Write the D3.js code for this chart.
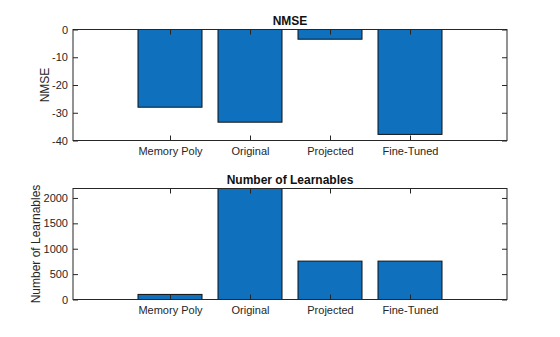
<!DOCTYPE html>
<html>
<head>
<meta charset="utf-8">
<script src="https://cdn.jsdelivr.net/npm/d3@7"></script>
<style>
  html, body { margin: 0; padding: 0; background: #fff; }
  svg { display: block; font-family: "Liberation Sans", Arial, Helvetica, sans-serif; }
</style>
</head>
<body>
<svg id="chart" width="560" height="337"></svg>
<script>
// Model comparison: error and parameter count
const categories = ["Memory Poly", "Original", "Projected", "Fine-Tuned"];
const nmseValues = [-28.0, -33.4, -3.5, -37.8];
const learnableValues = [100, 2186, 756, 756];
const nmseTicks = [0, -10, -20, -30, -40];
const learnableTicks = [0, 500, 1000, 1500, 2000];

const svg = d3.select("#chart");
const barColor = "#0f71be";
const axisColor = "#262626";
const plotLeft = 73, plotRight = 507;
const fmt = d => String(d); // plain hyphen minus, no thousands separator

// Shared category scale (bar positions 1..4, padding on either side)
const x = d3.scaleLinear()
  .domain([1 - 1.2125, 4 + 1.2125])
  .range([plotLeft, plotRight]);
const barW = (x(1.8) - x(1));

function panel(cfg) {
  const { top, bottom, yDomain, values, ticks, title, ylabel, ylabelX } = cfg;
  const y = d3.scaleLinear().domain(yDomain).range([bottom, top]);
  const g = svg.append("g");

  // bars
  g.selectAll("rect.bar")
    .data(values)
    .join("rect")
    .attr("class", "bar")
    .attr("x", (d, i) => x(i + 1) - barW / 2)
    .attr("width", barW)
    .attr("y", d => Math.min(y(d), y(0)))
    .attr("height", d => Math.abs(y(d) - y(0)))
    .attr("fill", barColor)
    .attr("stroke", "#111")
    .attr("stroke-width", 1);

  const tickLen = 5;
  // left axis (inward ticks)
  const left = d3.axisLeft(y).tickValues(ticks).tickFormat(fmt).tickSize(-tickLen).tickPadding(5);
  const gl = g.append("g").attr("transform", `translate(${plotLeft},0)`).call(left);
  // right axis (ticks only)
  const right = d3.axisRight(y).tickValues(ticks).tickSize(-tickLen).tickFormat("");
  const gr = g.append("g").attr("transform", `translate(${plotRight},0)`).call(right);
  // bottom axis with category labels
  const bottomAx = d3.axisBottom(x).tickValues([1, 2, 3, 4])
    .tickFormat(d => categories[d - 1]).tickSize(-tickLen).tickPadding(7);
  const gb = g.append("g").attr("transform", `translate(0,${bottom})`).call(bottomAx);
  // top axis (ticks only)
  const topAx = d3.axisTop(x).tickValues([1, 2, 3, 4]).tickFormat("").tickSize(-tickLen);
  const gt = g.append("g").attr("transform", `translate(0,${top})`).call(topAx);

  [gl, gr, gb, gt].forEach(a => {
    a.select(".domain").remove();
    a.selectAll("line").attr("stroke", axisColor);
    a.selectAll("text").attr("fill", axisColor).style("font-size", "11px");
  });

  // axes box
  g.append("rect")
    .attr("x", plotLeft).attr("y", top)
    .attr("width", plotRight - plotLeft).attr("height", bottom - top)
    .attr("fill", "none").attr("stroke", axisColor).attr("stroke-width", 1);

  // title
  g.append("text")
    .attr("x", (plotLeft + plotRight) / 2).attr("y", top - 5)
    .attr("text-anchor", "middle")
    .style("font-size", "12px").style("font-weight", "bold")
    .attr("fill", "#111")
    .text(title);

  // y label
  g.append("text")
    .attr("transform", `translate(${ylabelX},${(top + bottom) / 2}) rotate(-90)`)
    .attr("text-anchor", "middle")
    .style("font-size", "12px")
    .attr("fill", axisColor)
    .text(ylabel);
}

panel({
  top: 29.5, bottom: 140.5,
  yDomain: [-40, 0],
  values: nmseValues, ticks: nmseTicks,
  title: "NMSE", ylabel: "NMSE", ylabelX: 49
});

panel({
  top: 188.5, bottom: 299.5,
  yDomain: [0, d3.max(learnableValues)],
  values: learnableValues, ticks: learnableTicks,
  title: "Number of Learnables", ylabel: "Number of Learnables", ylabelX: 40
});
</script>
</body>
</html>
